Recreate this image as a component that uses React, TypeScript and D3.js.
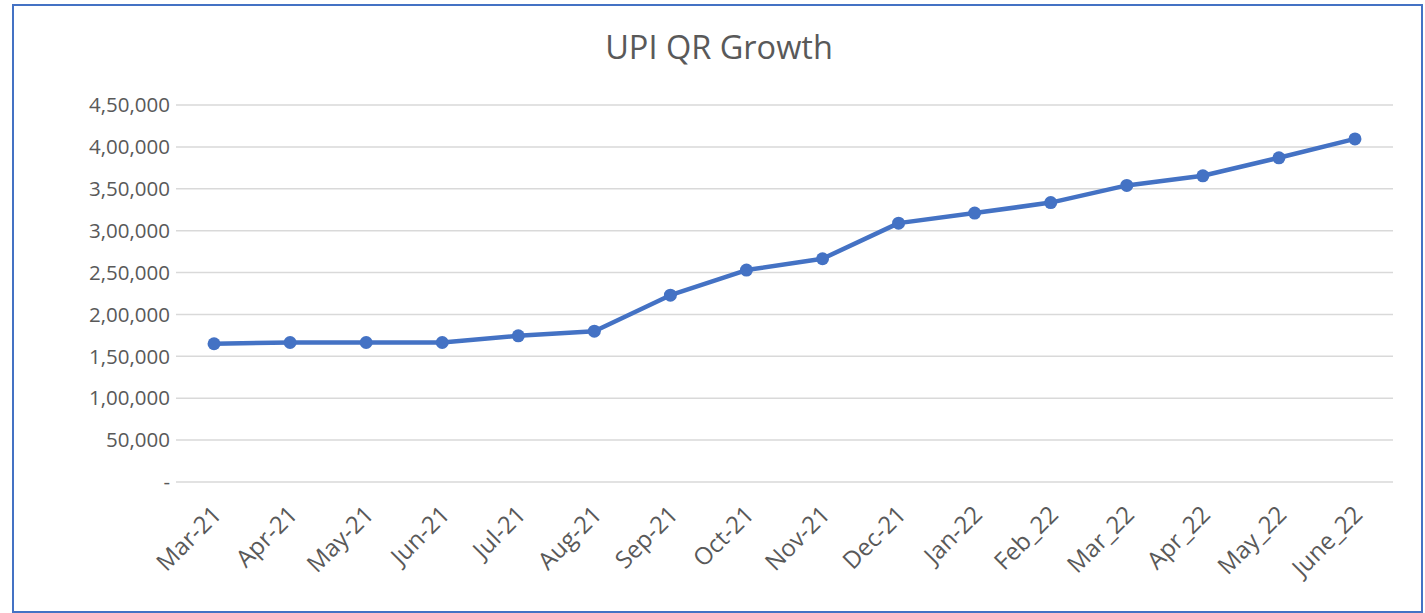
import React, { useRef, useEffect } from "react";
import * as d3 from "d3";

const months = [
  "Mar-21", "Apr-21", "May-21", "Jun-21", "Jul-21", "Aug-21", "Sep-21", "Oct-21",
  "Nov-21", "Dec-21", "Jan-22", "Feb_22", "Mar_22", "Apr_22", "May_22", "June_22",
];
const qrCount = [
  165000, 166500, 166500, 166500, 174500, 180000, 223000, 253000,
  266500, 309000, 321000, 333500, 354000, 365500, 387000, 409500,
];
const yTicks = [0, 50000, 100000, 150000, 200000, 250000, 300000, 350000, 400000, 450000];

const W = 1425;
const H = 613;

// Indian digit grouping: 4,50,000
const fmtIndian = (v: number) => {
  if (v === 0) return "-";
  const s = String(v);
  const last3 = s.slice(-3);
  const rest = s.slice(0, -3);
  return rest ? rest.replace(/\B(?=(\d{2})+(?!\d))/g, ",") + "," + last3 : last3;
};

const App = () => {
  const ref = useRef<SVGSVGElement>(null);

  useEffect(() => {
    if (!ref.current) return;
    const svg = d3.select(ref.current);
    svg.selectAll("*").remove();

    const left = 176, right = 1393, top = 105, bottom = 482;
    const font = "'Open Sans', sans-serif";
    const grey = "#595959";

    // chart border
    svg.append("rect")
      .attr("x", 13).attr("y", 5)
      .attr("width", 1409).attr("height", 607)
      .attr("fill", "#fff")
      .attr("stroke", "#4472C4")
      .attr("stroke-width", 2);

    const x = d3.scaleBand().domain(months).range([left, right]);
    const y = d3.scaleLinear().domain([0, 450000]).range([bottom, top]);

    // title
    svg.append("text")
      .attr("x", 719).attr("y", 59)
      .attr("text-anchor", "middle")
      .attr("font-family", font)
      .attr("font-size", 32.5)
      .attr("fill", grey)
      .text("UPI QR Growth");

    // gridlines
    svg.append("g")
      .selectAll("line")
      .data(yTicks)
      .enter()
      .append("line")
      .attr("x1", left).attr("x2", right)
      .attr("y1", (d) => y(d)).attr("y2", (d) => y(d))
      .attr("stroke", "#d9d9d9")
      .attr("stroke-width", 1.5);

    // y labels
    svg.append("g")
      .selectAll("text")
      .data(yTicks)
      .enter()
      .append("text")
      .attr("x", 170)
      .attr("y", (d) => y(d))
      .attr("dy", "0.35em")
      .attr("text-anchor", "end")
      .attr("font-family", font)
      .attr("font-size", 20.5)
      .attr("fill", grey)
      .text((d) => fmtIndian(d));

    // x labels, rotated
    svg.append("g")
      .selectAll("text")
      .data(months)
      .enter()
      .append("text")
      .attr("transform", (d) => `translate(${x(d)! + x.bandwidth() / 2 + 3},${bottom + 28}) rotate(-45)`)
      .attr("text-anchor", "end")
      .attr("dy", "0.35em")
      .attr("font-family", font)
      .attr("font-size", 24)
      .attr("fill", grey)
      .text((d) => d);

    const pts = months.map((m, i) => ({ m, v: qrCount[i] }));
    const cx = (d: { m: string }) => x(d.m)! + x.bandwidth() / 2;

    svg.append("path")
      .datum(pts)
      .attr("fill", "none")
      .attr("stroke", "#4472C4")
      .attr("stroke-width", 4.5)
      .attr("stroke-linejoin", "round")
      .attr("d", d3.line<{ m: string; v: number }>().x(cx).y((d) => y(d.v)));

    svg.append("g")
      .selectAll("circle")
      .data(pts)
      .enter()
      .append("circle")
      .attr("cx", cx)
      .attr("cy", (d) => y(d.v))
      .attr("r", 6.5)
      .attr("fill", "#4472C4");
  }, []);

  return <svg ref={ref} width={W} height={H} style={{ position: "absolute", left: 0, top: 0 }} />;
};

export default App;
